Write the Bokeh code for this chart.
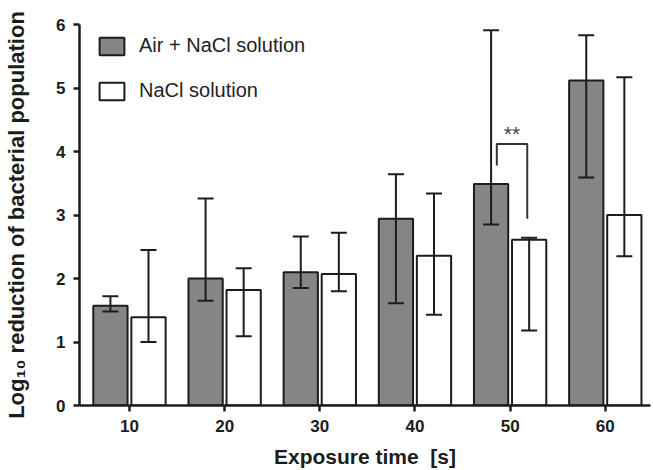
from bokeh.plotting import figure
from bokeh.models import (ColumnDataSource, Whisker, TeeHead, FixedTicker, Range1d,
                          Legend, LegendItem)
from bokeh.core.properties import value
from bokeh.embed import file_html
from bokeh.resources import INLINE

# ---- data ----
times = [10, 20, 30, 40, 50, 60]
air_mean = [1.57, 2.00, 2.10, 2.94, 3.49, 5.12]
air_upper = [1.72, 3.26, 2.66, 3.64, 5.91, 5.83]
air_lower = [1.48, 1.65, 1.85, 1.61, 2.85, 3.59]
nacl_mean = [1.39, 1.82, 2.07, 2.36, 2.61, 3.00]
nacl_upper = [2.45, 2.16, 2.72, 3.34, 2.64, 5.17]
nacl_lower = [1.00, 1.09, 1.80, 1.43, 1.18, 2.35]
series_names = ["Air + NaCl solution", "NaCl solution"]
y_ticks = [0, 1, 2, 3, 4, 5, 6]
# significance bracket between the two bars at 50 s
sig_x = [48.6, 48.6, 51.8, 51.8]
sig_y = [3.78, 4.12, 4.12, 2.94]
sig_label = ["**"]
sig_label_x = [50.2]
sig_label_y = [4.29]

offset = 2.0
bar_w = 3.6
dark = "#1c1c1c"
grey = "#858585"

air_src = ColumnDataSource(dict(x=[t - offset for t in times], top=air_mean,
                                upper=air_upper, lower=air_lower))
nacl_src = ColumnDataSource(dict(x=[t + offset for t in times], top=nacl_mean,
                                 upper=nacl_upper, lower=nacl_lower))

p = figure(width=653, height=470, output_backend="svg", toolbar_location=None,
           x_range=Range1d(4.75, 64.75), y_range=Range1d(0, 6),
           min_border_left=79, min_border_top=24, min_border_bottom=64,
           min_border_right=3)
p.outline_line_color = None
p.xgrid.visible = False
p.ygrid.visible = False

r_air = p.vbar(x="x", top="top", width=bar_w, source=air_src, fill_color=grey,
               line_color=dark, line_width=2)
r_nacl = p.vbar(x="x", top="top", width=bar_w, source=nacl_src, fill_color="white",
                line_color=dark, line_width=2)

for src in (air_src, nacl_src):
    w = Whisker(base="x", upper="upper", lower="lower", source=src,
                line_color=dark, line_width=2, level="overlay",
                upper_head=TeeHead(size=16, line_color=dark, line_width=2),
                lower_head=TeeHead(size=16, line_color=dark, line_width=2))
    p.add_layout(w)

p.line(sig_x, sig_y, line_color="#333333", line_width=2)
p.text(x=sig_label_x, y=sig_label_y, text=sig_label, text_align="center",
       text_baseline="alphabetic", text_font=value("Liberation Sans"),
       text_font_size="21px", text_color="#444444")

legend = Legend(items=[LegendItem(label=series_names[0], renderers=[r_air]),
                       LegendItem(label=series_names[1], renderers=[r_nacl])],
                location=(17, 303), padding=0, margin=0, spacing=22,
                glyph_width=31, glyph_height=22, label_height=22,
                label_standoff=12, border_line_color=None,
                background_fill_alpha=0,
                label_text_font="Liberation Sans", label_text_font_size="20px",
                label_text_color="#222222")
p.add_layout(legend)

for ax in (p.xaxis[0], p.yaxis[0]):
    ax.axis_line_width = 2.5
    ax.axis_line_color = dark
    ax.major_tick_line_width = 2.5
    ax.major_tick_line_color = dark
    ax.major_tick_out = 6
    ax.major_tick_in = 0
    ax.minor_tick_line_color = None
    ax.major_label_text_font = "Liberation Sans"
    ax.major_label_text_font_style = "bold"
    ax.major_label_text_font_size = "17px"
    ax.major_label_text_color = dark
    ax.axis_label_text_font = "Liberation Sans"
    ax.axis_label_text_font_style = "bold"
    ax.axis_label_text_font_size = "21px"
    ax.axis_label_text_color = dark

p.yaxis.axis_label_text_font_size = "22px"
p.xaxis.ticker = FixedTicker(ticks=times)
p.yaxis.ticker = FixedTicker(ticks=y_ticks)
p.xaxis.axis_label = "Exposure time\u00a0 [s]"
p.yaxis.axis_label = "Log\u2081\u2080 reduction of bacterial population"
p.xaxis.major_label_standoff = 8
p.yaxis.major_label_standoff = 8
p.xaxis.axis_label_standoff = 10
p.yaxis.axis_label_standoff = 24

open("out.html", "w").write(file_html(p, INLINE))
